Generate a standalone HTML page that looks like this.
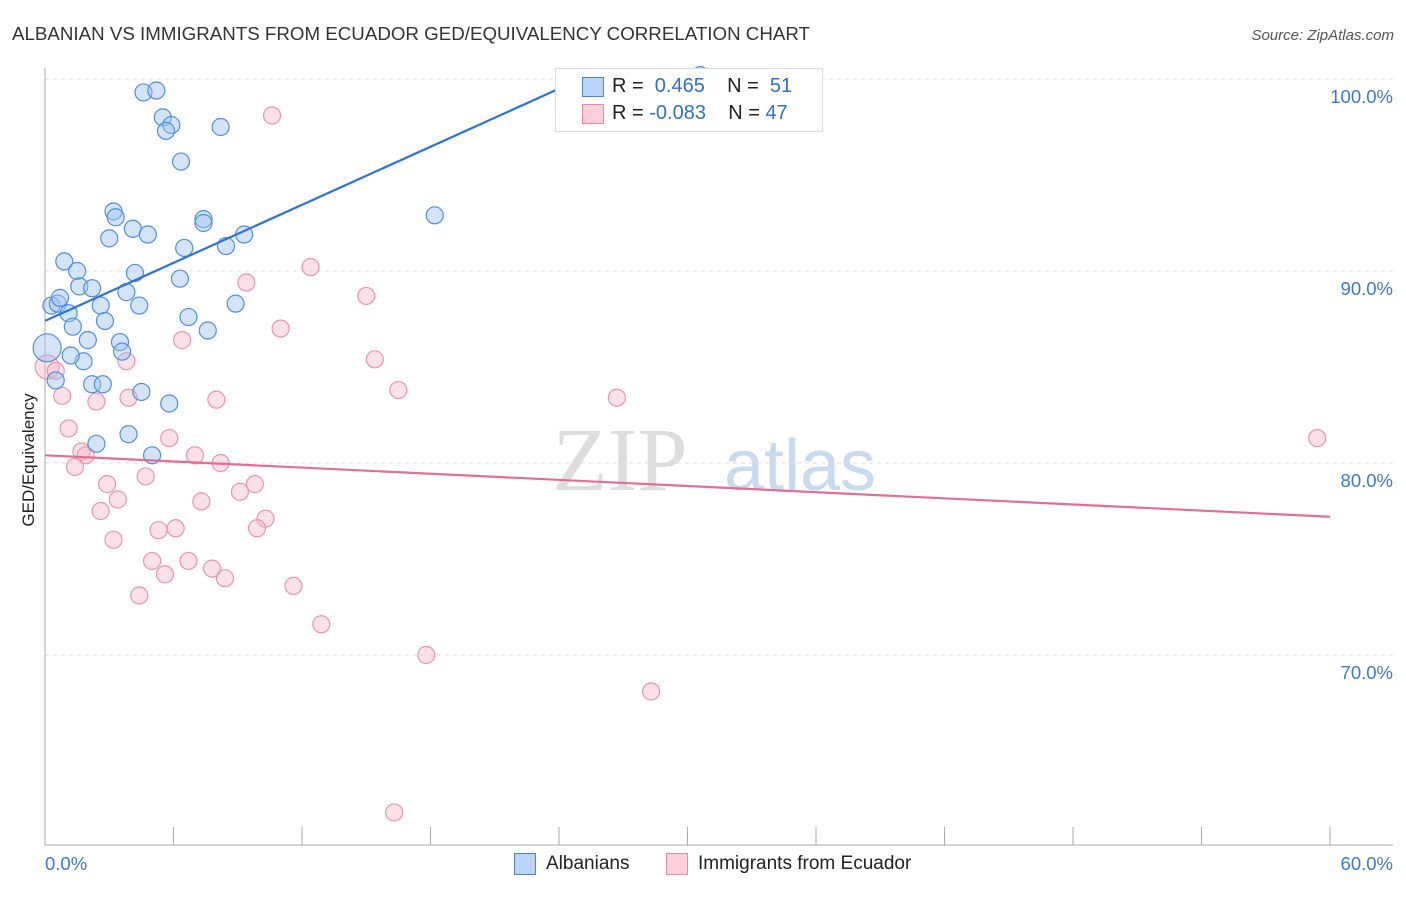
<!DOCTYPE html>
<html><head><meta charset="utf-8"><style>
body{margin:0;background:#fff;font-family:"Liberation Sans",sans-serif}
#wrap{position:relative;width:1406px;height:892px}
</style></head><body>
<div id="wrap">
<svg id="c" width="1406" height="892" xmlns="http://www.w3.org/2000/svg">
<text x="12" y="40" font-size="18" fill="#333" textLength="798" lengthAdjust="spacingAndGlyphs">ALBANIAN VS IMMIGRANTS FROM ECUADOR GED/EQUIVALENCY CORRELATION CHART</text>
<text x="1394" y="40" font-size="15" fill="#555" font-style="italic" text-anchor="end">Source: ZipAtlas.com</text>
<text x="34" y="460" font-size="17" fill="#222" text-anchor="middle" transform="rotate(-90 34 460)">GED/Equivalency</text>
<text x="620" y="490" font-size="90" fill="#ddd" font-family="Liberation Serif,serif" text-anchor="middle">ZIP</text>
<text x="800" y="490" font-size="72" fill="#c8daf0" text-anchor="middle">atlas</text>
<g id="grid"></g><g id="pts"></g><g id="trend"></g>
</svg>
<div style="position:absolute;left:555px;top:68px;width:266px;height:62px;border:1px solid #ddd;background:#fff;font-size:20px">
<div style="position:absolute;left:26px;top:8px;width:20px;height:18px;background:#b9d4f5;border:1px solid #4a86d8"></div>
<div style="position:absolute;left:56px;top:6px;color:#222">R = &nbsp;<span style="color:#2f6fce">0.465</span>&nbsp;&nbsp;&nbsp; N = &nbsp;<span style="color:#2f6fce">51</span></div>
<div style="position:absolute;left:26px;top:35px;width:20px;height:18px;background:#fbd0dc;border:1px solid #e88aa5"></div>
<div style="position:absolute;left:56px;top:33px;color:#222">R = <span style="color:#2f6fce">-0.083</span>&nbsp;&nbsp;&nbsp; N = <span style="color:#2f6fce">47</span></div>
</div>
<div style="position:absolute;left:514px;top:853px;width:20px;height:20px;background:#b9d4f5;border:1px solid #4a86d8"></div>
<div style="position:absolute;left:546px;top:853px;font-size:19px;color:#222">Albanians</div>
<div style="position:absolute;left:666px;top:853px;width:20px;height:20px;background:#fbd0dc;border:1px solid #e88aa5"></div>
<div style="position:absolute;left:698px;top:853px;font-size:19px;color:#222">Immigrants from Ecuador</div>
</div>
<script>
const yTicks=[100,90,80,70];
const xTickLabels=["0.0%","60.0%"];
const blueX=[4.6,5.2,5.5,5.9,5.65,8.2,6.35,3.2,3.3,7.4,7.4,4.1,4.8,3.0,9.3,8.45,6.5,18.2,0.9,1.5,4.2,6.3,1.6,2.2,3.8,0.3,0.6,0.7,1.1,2.6,4.4,1.3,6.7,8.9,7.6,2.8,2.0,3.5,0.1,3.6,1.8,1.2,0.5,2.2,2.7,4.5,5.8,3.9,2.4,5.0,30.6];
const blueY=[99.3,99.4,98.0,97.6,97.3,97.5,95.7,93.1,92.8,92.7,92.5,92.2,91.9,91.7,91.9,91.3,91.2,92.9,90.5,90.0,89.9,89.6,89.2,89.1,88.9,88.2,88.3,88.6,87.8,88.2,88.2,87.1,87.6,88.3,86.9,87.4,86.4,86.3,86.0,85.8,85.3,85.6,84.3,84.1,84.1,83.7,83.1,81.5,81.0,80.4,100.2];
const pinkX=[10.6,12.4,15.0,9.4,11.0,6.4,15.4,3.8,0.1,0.5,16.5,0.8,2.4,3.9,8.0,26.7,1.1,5.8,1.7,1.9,1.4,7.0,8.2,4.7,2.9,9.8,9.1,3.4,7.3,2.6,10.3,9.9,5.3,6.1,3.2,5.0,6.7,7.8,5.6,8.4,11.6,4.4,12.9,17.8,28.3,16.3,59.4];
const pinkY=[98.1,90.2,88.7,89.4,87.0,86.4,85.4,85.3,85.0,84.8,83.8,83.5,83.2,83.4,83.3,83.4,81.8,81.3,80.6,80.4,79.8,80.4,80.0,79.3,78.9,78.9,78.5,78.1,78.0,77.5,77.1,76.6,76.5,76.6,76.0,74.9,74.9,74.5,74.2,74.0,73.6,73.1,71.6,70.0,68.1,61.8,81.3];
const blueTrend=[[0,87.4],[25.4,100.2]];
const pinkTrend=[[0,80.4],[60,77.2]];
const NS="http://www.w3.org/2000/svg";
const X=v=>45+v/60*1285, Y=v=>79+(100-v)*19.2;
function mk(t,a,p){const e=document.createElementNS(NS,t);for(const k in a)e.setAttribute(k,a[k]);p.appendChild(e);return e;}
const grid=document.getElementById('grid');
for(const t of yTicks){
 const l=mk('line',{x1:45,x2:1393,y1:Y(t),y2:Y(t),stroke:'#ddd','stroke-dasharray':'4,4'},grid);
 
 
 const tx=mk('text',{x:1393,y:Y(t)+24,'font-size':18.5,fill:'#3b78d8','text-anchor':'end'},grid);
 tx.textContent=t.toFixed(1)+'%';
 
 
}
const ax=mk('line',{x1:45,x2:45,y1:68,y2:845,stroke:'#aaa'},grid);


const bx=mk('line',{x1:45,x2:1393,y1:845,y2:845,stroke:'#aaa'},grid);


for(let i=0;i<=10;i++){const v=i*6;
 const tk=mk('line',{x1:X(v),x2:X(v),y1:827,y2:845,stroke:'#aaa'},grid);
 
 }
[[0,'start',45],[60,'end',1393]].forEach((d,i)=>{const tx=mk('text',{x:d[2],y:870,'font-size':18.5,fill:'#3b78d8','text-anchor':d[1]},grid);
 tx.textContent=xTickLabels[i];
 
 });
const pts=document.getElementById('pts');
pinkX.forEach((x,i)=>{const c=mk('circle',{cx:X(x),cy:Y(pinkY[i]),r:(i==8?12:8.5),fill:'rgba(248,186,205,0.45)',stroke:'#eb93ae','stroke-width':1.2},pts);
 
 });
blueX.forEach((x,i)=>{const c=mk('circle',{cx:X(x),cy:Y(blueY[i]),r:(i==38?14:8.5),fill:'rgba(160,196,240,0.45)',stroke:'#4f8ee0','stroke-width':1.2},pts);
 
 });
const tr=document.getElementById('trend');
const lb=mk('line',{x1:X(blueTrend[0][0]),y1:Y(blueTrend[0][1]),x2:X(blueTrend[1][0]),y2:Y(blueTrend[1][1]),stroke:'#2a74d8','stroke-width':2.2},tr);


const lp=mk('line',{x1:X(pinkTrend[0][0]),y1:Y(pinkTrend[0][1]),x2:X(pinkTrend[1][0]),y2:Y(pinkTrend[1][1]),stroke:'#e36d95','stroke-width':2.2},tr);


</script>
</body></html>
